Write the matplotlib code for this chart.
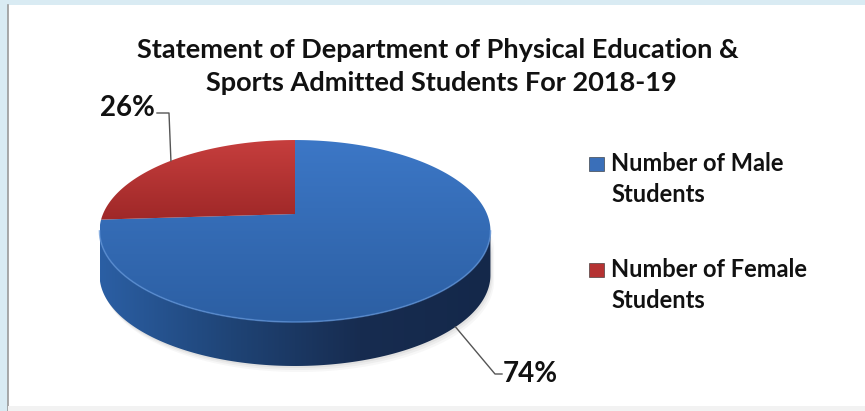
import numpy as np
import matplotlib
matplotlib.use('Agg')
import matplotlib.pyplot as plt
from matplotlib.colors import LinearSegmentedColormap
from matplotlib.patches import Polygon, Rectangle

# data
categories = ["Number of Male\nStudents", "Number of Female\nStudents"]
shares = [74, 26]
pct_labels = ["74%", "26%"]
title = "Statement of Department of Physical Education &\nSports Admitted Students For 2018-19"

W, H = 865, 411
FONT = "Lato"

# 3d pie geometry (pixels)
cx, cy = 295, 214      # projected pie centre
R, S = 192, 87.8       # horizontal / depth radii
p = 0.187              # perspective strength
D = 44                 # thickness

top_cols = [("#3c77c6", "#2c5fa3"), ("#c63e3d", "#9f2828")]


def proj(theta, r=1.0, dz=0.0):
    u = r * np.cos(theta)
    v = r * np.sin(theta)
    den = 1 + p * v
    return cx + R * u / den, cy - S * v / den + dz


fig = plt.figure(figsize=(W / 100, H / 100), dpi=100, facecolor="#d9ebf3")
ax = fig.add_axes([0, 0, 1, 1])
ax.set_xlim(0, W)
ax.set_ylim(H, 0)
ax.axis("off")

# white panel with frame
ax.add_patch(Rectangle((8, 5), W - 8, H - 5, facecolor="white", edgecolor="none", zorder=0))
ax.plot([7.5, 7.5], [5, H], color="#9a9a9a", lw=1.2, zorder=1)
ax.add_patch(Rectangle((8, 406), W - 8, 5, facecolor="#f2f2f2", edgecolor="none", zorder=1))

# angles: start at 12 o'clock, clockwise
fracs = np.array(shares, dtype=float) / sum(shares)
starts = np.pi / 2 - 2 * np.pi * np.concatenate([[0], np.cumsum(fracs)[:-1]])
ends = starts - 2 * np.pi * fracs

# side (front half between silhouette extremes)
t_left = np.pi + np.arcsin(p)
t_right = 2 * np.pi - np.arcsin(p)
ts = np.linspace(t_left, t_right, 300)
xs_t, ys_t = proj(ts)
xs_b, ys_b = proj(ts, dz=D)
side_xy = np.column_stack([np.concatenate([xs_t, xs_b[::-1]]),
                           np.concatenate([ys_t, ys_b[::-1]])])

# soft shadow
for off, a in [(6, 0.06), (4, 0.08), (2, 0.10)]:
    ax.add_patch(Polygon(side_xy + [off * 0.6, off], closed=True,
                         facecolor="#7a7a7a", edgecolor="none", alpha=a, zorder=2))

side = Polygon(side_xy, closed=True, facecolor="none", edgecolor="none", zorder=3)
ax.add_patch(side)
side_cmap = LinearSegmentedColormap.from_list("side", ["#2b5fa4", "#1f4476", "#172c50", "#14284a"])
img = ax.imshow(np.linspace(0, 1, 256).reshape(1, -1), cmap=side_cmap, aspect="auto",
                extent=(xs_t.min(), xs_t.max(), ys_b.max(), ys_t.min()), zorder=3,
                interpolation="bilinear")
img.set_clip_path(side)

# top face wedges
for (st, en), (c0, c1) in zip(zip(starts, ends), top_cols):
    tt = np.linspace(st, en, 300)
    xs, ys = proj(tt)
    xy = np.column_stack([np.concatenate([[cx], xs]), np.concatenate([[cy], ys])])
    poly = Polygon(xy, closed=True, facecolor="none", edgecolor="none", zorder=4)
    ax.add_patch(poly)
    cmap = LinearSegmentedColormap.from_list("t", [c0, c1])
    im = ax.imshow(np.linspace(0, 1, 256).reshape(-1, 1), cmap=cmap, aspect="auto",
                   extent=(xy[:, 0].min(), xy[:, 0].max(), xy[:, 1].max(), xy[:, 1].min()),
                   zorder=4, interpolation="bilinear")
    im.set_clip_path(poly)

# light rim on the front edge
ax.plot(xs_t, ys_t, color="#5a8fd5", lw=1.2, alpha=0.7, zorder=5)

ax.set_xlim(0, W)
ax.set_ylim(H, 0)

# percentage labels with leader lines
mids = (starts + ends) / 2
# male: anchor on bottom edge of the side, label lower right
mx, my = proj(mids[0], dz=D)
ax.plot([mx, 495, 502], [my, 374, 374], color="#555555", lw=1.0, zorder=6)
ax.text(503, 374, pct_labels[0], fontsize=20, fontweight="bold", family=FONT,
        ha="left", va="center", color="#111111", zorder=6)
# female: anchor on top edge, label upper left
fx, fy = proj(mids[1])
ax.plot([fx, 169, 157], [fy, 113, 113], color="#555555", lw=1.0, zorder=6)
ax.text(155, 116, pct_labels[1], fontsize=20, fontweight="bold", family=FONT,
        ha="right", va="baseline", color="#111111", zorder=6)

# title
ax.text(438, 58, title.split("\n")[0], fontsize=19.5, fontweight="bold", family=FONT,
        ha="center", va="baseline", color="#111111")
ax.text(441, 91, title.split("\n")[1], fontsize=19.5, fontweight="bold", family=FONT,
        ha="center", va="baseline", color="#111111")

# legend
leg_cols = ["#3a6fb9", "#b53232"]
leg_y = [171, 277]
for lab, col, y in zip(categories, leg_cols, leg_y):
    ax.add_patch(Rectangle((589, y - 14), 15, 14, facecolor=col, edgecolor="#2a2a2a",
                           lw=0.4, zorder=6))
    l1, l2 = lab.split("\n")
    ax.text(611, y, l1, fontsize=17, fontweight="bold", family=FONT,
            ha="left", va="baseline", color="#111111")
    ax.text(611, y + 31, l2, fontsize=17, fontweight="bold", family=FONT,
            ha="left", va="baseline", color="#111111")

fig.savefig("out.png", dpi=100, facecolor=fig.get_facecolor())
